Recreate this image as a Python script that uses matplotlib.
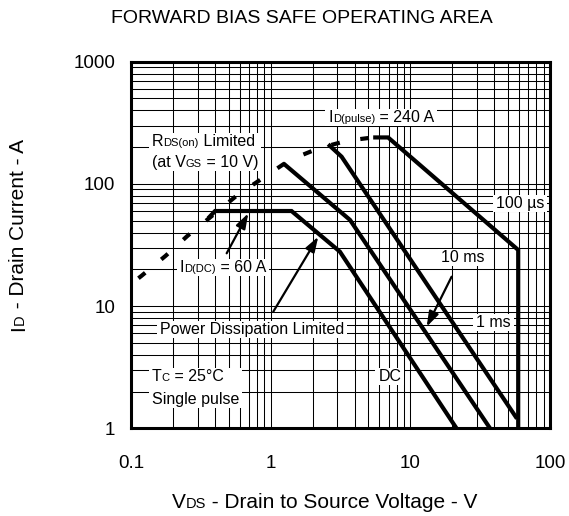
import numpy as np
import matplotlib
matplotlib.use("Agg")
import matplotlib.pyplot as plt
from matplotlib.transforms import offset_copy, Bbox, IdentityTransform
from matplotlib.patches import Rectangle
from matplotlib.font_manager import FontProperties
from matplotlib.ticker import LogLocator, NullFormatter, FixedLocator

FAMILY = ['Liberation Sans', 'DejaVu Sans']
plt.rcParams['font.family'] = FAMILY

# ---------------- data ----------------
x_ticks = [0.1, 1, 10, 100]
x_tick_labels = ['0.1', '1', '10', '100']
y_ticks = [1, 10, 100, 1000]
y_tick_labels = ['1', '10', '100', '1000']

# R_DS(on) limited boundary (dashed)
rds_v = [0.113, 0.119, 0.177, 0.254, 0.578, 0.873, 1.37, 2.22, 3.55, 5.42]
rds_i = [16.9, 17.7, 25.8, 37.6, 81.0, 111.0, 157.0, 196.0, 226.0, 240.0]

# DC
dc_v = [0.357, 0.40, 1.41, 3.13, 21.4]
dc_i = [52.3, 60.0, 60.0, 27.9, 1.0]

# 10 ms
ms10_v = [1.23, 3.70, 37.2]
ms10_i = [147.5, 50.7, 1.0]

# 1 ms
ms1_v = [2.58, 3.22, 58.0]
ms1_i = [211.0, 167.0, 1.2]

# 100 us
us100_v = [5.42, 6.93, 59.2, 59.2]
us100_i = [240.0, 240.0, 28.8, 1.0]

# ---------------- figure ----------------
W, H = 569, 516
fig = plt.figure(figsize=(W / 100, H / 100), dpi=100)
ax = fig.add_axes([131 / W, (H - 428.3) / H, 419 / W, 366.6 / H])
ax.set_xscale('log')
ax.set_yscale('log')
ax.set_xlim(0.1, 100)
ax.set_ylim(1, 1000)
ax.xaxis.set_major_locator(FixedLocator(x_ticks))
ax.yaxis.set_major_locator(FixedLocator(y_ticks))
ax.set_xticklabels(x_tick_labels)
ax.set_yticklabels(y_tick_labels)
ax.xaxis.set_minor_locator(LogLocator(base=10, subs=np.arange(2, 10)))
ax.yaxis.set_minor_locator(LogLocator(base=10, subs=np.arange(2, 10)))
ax.xaxis.set_minor_formatter(NullFormatter())
ax.yaxis.set_minor_formatter(NullFormatter())
ax.set_axisbelow(True)
ax.grid(True, which='both', color='black', lw=0.75)
ax.tick_params(which='both', length=0)
ax.tick_params(axis='x', pad=19, labelsize=13.5)
ax.tick_params(axis='y', pad=11.5, labelsize=13.5)
for sp in ax.spines.values():
    sp.set_linewidth(2.2)
    sp.set_zorder(4)

LW = 3.0
common = dict(color='black', lw=LW, solid_capstyle='butt', solid_joinstyle='miter', zorder=3)
ax.plot(rds_v, rds_i, color='black', lw=LW, ls=(0, (2.1, 5.0)), dash_capstyle='butt', zorder=3)
ax.plot(dc_v, dc_i, **common)
ax.plot(ms10_v, ms10_i, **common)
ax.plot(ms1_v, ms1_i, **common)
ax.plot(us100_v, us100_i, **common)

# ---------------- rich text helpers ----------------
renderer = fig.canvas.get_renderer()
SUB = 0.7


def text_width(s, size):
    prop = FontProperties(family=FAMILY, size=size)
    w1 = renderer.get_text_width_height_descent('x' + s + 'x', prop, ismath=False)[0]
    w0 = renderer.get_text_width_height_descent('xx', prop, ismath=False)[0]
    return w1 - w0


def rich(target, x, y, parts, size, transform, rotation=0, zorder=5):
    arts = []
    off = 0.0
    for s, sub in parts:
        fs = size * (SUB if sub else 1.0)
        if rotation:
            tr = offset_copy(transform, fig=fig, x=0, y=off, units='dots')
        else:
            tr = offset_copy(transform, fig=fig, x=off, y=0, units='dots')
        t = target.text(x, y, s, transform=tr, fontsize=fs, ha='left', va='baseline',
                        rotation=rotation, rotation_mode='anchor', zorder=zorder,
                        family=FAMILY)
        off += text_width(s, fs)
        arts.append(t)
    return arts


def white_box(arts, padx=3, pady=1):
    bbs = [a.get_window_extent(renderer) for a in arts]
    bb = Bbox.union(bbs)
    r = Rectangle((bb.x0 - padx, bb.y0 - pady), bb.width + 2 * padx, bb.height + 2 * pady,
                  transform=IdentityTransform(), facecolor='white', edgecolor='none', zorder=1)
    ax.add_artist(r)


FS = 11.5
tD = ax.transData

# R_DS(on) limited
a1 = rich(ax, 0.1406, 205.4, [('R', False), ('DS(on)', True), (' Limited', False)], FS, tD)
a2 = rich(ax, 0.1406, 136.7, [('(at V', False), ('GS', True), (' = 10 V)', False)], FS, tD)
white_box(a1 + a2)

# I_D(pulse)
a = rich(ax, 2.584, 318.6, [('I', False), ('D(pulse)', True), (' = 240 A', False)], FS, tD)
white_box(a)

# 100 us
t = ax.text(60.9, 63.9, '100 µs', fontsize=FS, ha='center', va='baseline', zorder=5)
white_box([t])

# 10 ms
t = ax.text(23.9, 22.8, '10 ms', fontsize=FS, ha='center', va='baseline', zorder=5)
white_box([t])
ax.annotate('', xy=(13.09, 6.78), xytext=(19.75, 17.4),
            arrowprops=dict(arrowstyle='-|>,head_length=0.6,head_width=0.2', color='black',
                            lw=1.6, mutation_scale=15, shrinkA=0, shrinkB=0), zorder=5)

# 1 ms
t = ax.text(39.2, 6.69, '1 ms', fontsize=FS, ha='center', va='baseline', zorder=5)
white_box([t])

# I_D(DC)
a = rich(ax, 0.2243, 18.87, [('I', False), ('D(DC)', True), (' = 60 A', False)], FS, tD)
white_box(a)
ax.annotate('', xy=(0.6914, 57.45), xytext=(0.4842, 27.05),
            arrowprops=dict(arrowstyle='-|>,head_length=0.6,head_width=0.2', color='black',
                            lw=1.6, mutation_scale=15, shrinkA=0, shrinkB=0), zorder=5)

# Power dissipation limited
t = ax.text(0.1613, 5.91, 'Power Dissipation Limited', fontsize=FS, ha='left', va='baseline', zorder=5)
white_box([t])
ax.annotate('', xy=(2.191, 36.98), xytext=(1.044, 9.0),
            arrowprops=dict(arrowstyle='-|>,head_length=0.6,head_width=0.2', color='black',
                            lw=1.6, mutation_scale=15, shrinkA=0, shrinkB=0), zorder=5)

# DC
t = ax.text(7.145, 2.452, 'DC', fontsize=FS, ha='center', va='baseline', zorder=5)
white_box([t])

# Tc / single pulse
a1 = rich(ax, 0.1406, 2.452, [('T', False), ('C', True), (' = 25°C', False)], FS, tD)
t2 = ax.text(0.1406, 1.58, 'Single pulse', fontsize=FS, ha='left', va='baseline', zorder=5)
white_box(a1 + [t2])

# ---------------- titles / axis labels ----------------
fig.text(301.5 / W, 1 - 18.3 / H, 'FORWARD BIAS SAFE OPERATING AREA', fontsize=14,
         ha='center', va='center')
idt = IdentityTransform()
rich(fig, 171.7, 7.7, [('V', False), ('DS', True), (' - Drain to Source Voltage - V', False)], 15, idt)
rich(fig, 24, 185.4, [('I', False), ('D', True), (' - Drain Current - A', False)], 15, idt, rotation=90)

fig.savefig('out.png', dpi=100)
